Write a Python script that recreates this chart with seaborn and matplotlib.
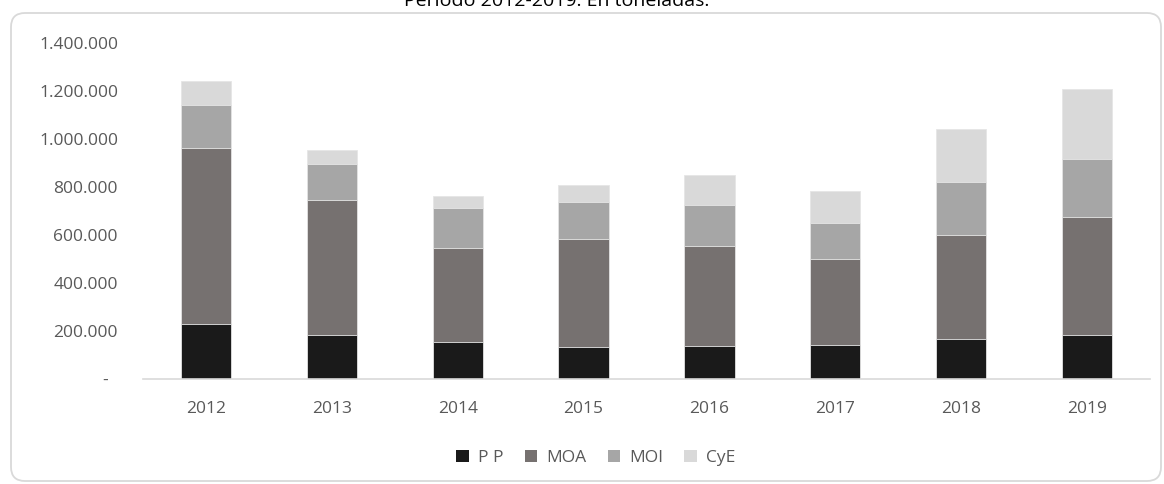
import numpy as np
import pandas as pd
import matplotlib
matplotlib.use("Agg")
import matplotlib.pyplot as plt
from matplotlib.patches import FancyBboxPatch, Patch
from matplotlib.ticker import FuncFormatter, MultipleLocator
from matplotlib.transforms import IdentityTransform
import seaborn as sns

# datos (toneladas)
years = ["2012", "2013", "2014", "2015", "2016", "2017", "2018", "2019"]
pp = [227000, 182000, 153000, 132000, 136000, 138000, 167000, 182000]
moa = [736000, 564000, 392000, 452000, 418000, 361000, 433000, 493000]
moi = [178000, 150000, 167000, 152000, 172000, 149000, 222000, 241000]
cye = [101000, 57000, 52000, 73000, 123000, 134000, 219000, 291000]
series = ["P P", "MOA", "MOI", "CyE"]
colors = ["#1a1a1a", "#767170", "#a6a6a6", "#d9d9d9"]
title = "Período 2012-2019. En toneladas."

TEXT = "#595959"

sns.set_theme(style="white")
plt.rcParams["font.family"] = ["Open Sans", "DejaVu Sans"]

df = pd.DataFrame({"year": years, "P P": pp, "MOA": moa, "MOI": moi, "CyE": cye})
cum = df[series].cumsum(axis=1)
cum["year"] = df["year"]

fig = plt.figure(figsize=(11.64, 4.84), dpi=100)
ax = fig.add_axes([143 / 1164, 1 - 378.5 / 484, (1150 - 143) / 1164, (378.5 - 43.2) / 484])

# barras apiladas: se dibujan los acumulados de arriba hacia abajo
for name, col in reversed(list(zip(series, colors))):
    sns.barplot(data=cum, x="year", y=name, color=col, width=0.4, ax=ax,
                saturation=1, edgecolor="#e6e6e6", linewidth=0.6, zorder=2)

ax.set_ylim(0, 1400000)
ax.set_xlim(-0.5, len(years) - 0.5)
ax.yaxis.set_major_locator(MultipleLocator(200000))


def fmt(v, pos):
    if v == 0:
        return "-  "
    return f"{int(v):,}".replace(",", ".")


ax.yaxis.set_major_formatter(FuncFormatter(fmt))
ax.set_xlabel("")
ax.set_ylabel("")
for s in ["top", "right", "left"]:
    ax.spines[s].set_visible(False)
ax.spines["bottom"].set_color("#d9d9d9")
ax.spines["bottom"].set_linewidth(1.2)
ax.tick_params(axis="x", length=0, pad=16, labelsize=12.5, labelcolor=TEXT)
ax.tick_params(axis="y", length=0, pad=18, labelsize=12.5, labelcolor=TEXT)
ax.grid(False)

handles = [Patch(facecolor=c, edgecolor="none", label=s) for s, c in zip(series, colors)]
fig.legend(handles=handles, loc="center", bbox_to_anchor=(596 / 1164, 1 - 458 / 484),
           ncol=4, frameon=False, fontsize=12.5, labelcolor=TEXT,
           handlelength=0.72, handleheight=0.72, handletextpad=0.55, columnspacing=1.2)

fig.text(557 / 1164, 1 - 6.5 / 484, title, ha="center", va="baseline",
         fontsize=14, color="#000000")

border = FancyBboxPatch((11, 3), 1150, 468, boxstyle="round,pad=0,rounding_size=14",
                        transform=IdentityTransform(), facecolor="none",
                        edgecolor="#d9d9d9", linewidth=1.3)
fig.patches.append(border)

fig.savefig("out.png", dpi=100)
